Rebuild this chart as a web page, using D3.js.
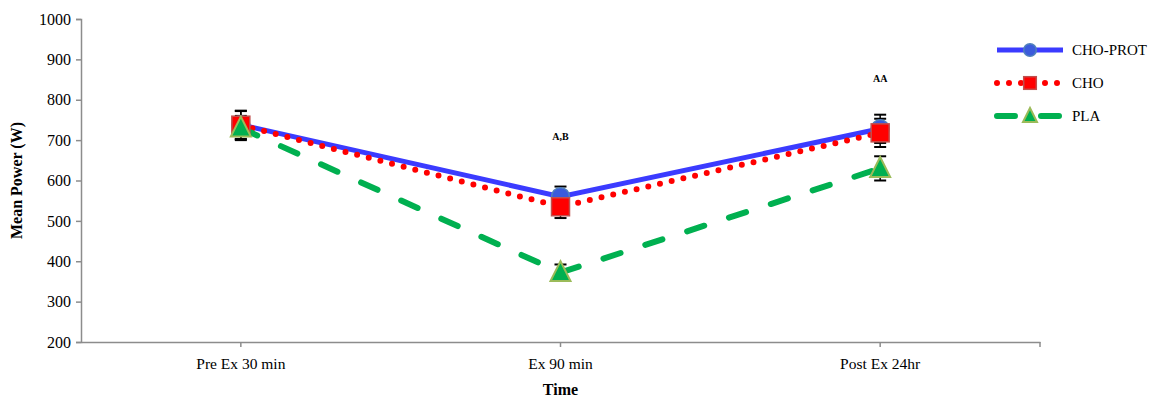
<!DOCTYPE html>
<html>
<head>
<meta charset="utf-8">
<script src="https://cdn.jsdelivr.net/npm/d3@7"></script>
<style>
  body { margin: 0; background: #fff; }
  svg text { font-family: "Liberation Serif", "DejaVu Serif", serif; }
</style>
</head>
<body>
<div class="chart"></div>
<script>
var categories = ['Pre Ex 30 min', 'Ex 90 min', 'Post Ex 24hr'];
var yTicks = [200, 300, 400, 500, 600, 700, 800, 900, 1000];

var choProt = [738, 560, 728];
var choProtErr = [35, 25, 35];
var cho = [737, 535, 718];
var choErr = [35, 28, 35];
var pla = [730, 372, 630];
var plaErr = [30, 20, 30];

var annotations = [
  {cat: 'Ex 90 min', value: 700, text: 'A,B'},
  {cat: 'Post Ex 24hr', value: 843, text: 'AA'}
];

var series = [
  {name: 'CHO-PROT', values: choProt, err: choProtErr, color: '#3b3bff', width: 5, dash: null, cap: 'butt', marker: 'circle'},
  {name: 'CHO', values: cho, err: choErr, color: '#ff0000', width: 6, dash: '0,12', cap: 'round', marker: 'square'},
  {name: 'PLA', values: pla, err: plaErr, color: '#00b050', width: 6, dash: '18,26', cap: 'round', marker: 'triangle'}
];

var W = 1149, H = 397;
var margin = {top: 19, right: 109, bottom: 55, left: 81};
var width = W - margin.left - margin.right,
    height = H - margin.top - margin.bottom;

var svg = d3.select('.chart').append('svg')
  .attr('width', W).attr('height', H)
  .append('g')
  .attr('transform', 'translate(' + margin.left + ',' + margin.top + ')');

var x = d3.scaleBand().domain(categories).range([0, width]);
var y = d3.scaleLinear().domain([200, 1000]).range([height, 0]);
function cx(c) { return x(c) + x.bandwidth() / 2; }

// Y axis
var yAxis = svg.append('g')
  .call(d3.axisLeft(y).tickValues(yTicks).tickFormat(d3.format('d')).tickSize(5).tickPadding(5));
yAxis.select('.domain').attr('stroke', '#8c8c8c').attr('stroke-width', 1.5);
yAxis.selectAll('.tick line').attr('stroke', '#8c8c8c').attr('stroke-width', 1.5);
yAxis.selectAll('.tick text').attr('font-size', 16).attr('fill', '#000');

// X axis
var xAxis = svg.append('g')
  .attr('transform', 'translate(0,' + height + ')')
  .call(d3.axisBottom(x).tickSize(5).tickSizeOuter(0).tickPadding(11));
xAxis.select('.domain').attr('stroke', '#8c8c8c').attr('stroke-width', 1.5);
xAxis.selectAll('.tick line').attr('stroke', '#8c8c8c').attr('stroke-width', 1.5);
xAxis.selectAll('.tick text').attr('font-size', 15.5).attr('fill', '#000');
xAxis.append('line')
  .attr('x1', width).attr('x2', width).attr('y1', 0).attr('y2', 5)
  .attr('stroke', '#8c8c8c').attr('stroke-width', 1.5);

// Axis titles
svg.append('text')
  .attr('x', width / 2).attr('y', height + 53)
  .attr('text-anchor', 'middle').attr('font-size', 16).attr('font-weight', 'bold')
  .text('Time');
svg.append('text')
  .attr('transform', 'rotate(-90)')
  .attr('x', -height / 2).attr('y', -59)
  .attr('text-anchor', 'middle').attr('font-size', 16).attr('font-weight', 'bold')
  .text('Mean Power (W)');

var line = d3.line()
  .x(function (d, i) { return cx(categories[i]); })
  .y(function (d) { return y(d); });

function drawMarker(g, type, px, py, big) {
  var s = big ? 1 : 0.7;
  if (type === 'circle') {
    g.append('circle').attr('cx', px).attr('cy', py).attr('r', 9 * s)
      .attr('fill', '#3b5bdb').attr('stroke', '#4f81bd').attr('stroke-width', 1.5);
  } else if (type === 'square') {
    g.append('rect').attr('x', px - 9 * s).attr('y', py - 9 * s)
      .attr('width', 18 * s).attr('height', 18 * s)
      .attr('fill', '#ff0000').attr('stroke', '#c0504d').attr('stroke-width', 1.5);
  } else {
    var h = 19 * s, b = 10 * s;
    g.append('path')
      .attr('d', 'M' + px + ',' + (py - h * 0.6) + 'L' + (px + b) + ',' + (py + h * 0.45) + 'L' + (px - b) + ',' + (py + h * 0.45) + 'Z')
      .attr('fill', '#00b050').attr('stroke', '#9bbb59').attr('stroke-width', 2);
  }
}

// Error bars
series.forEach(function (s) {
  var g = svg.append('g');
  s.values.forEach(function (v, i) {
    var px = cx(categories[i]);
    var lo = y(v - s.err[i]), hi = y(v + s.err[i]);
    g.append('line').attr('x1', px).attr('x2', px).attr('y1', lo).attr('y2', hi)
      .attr('stroke', '#000').attr('stroke-width', 1.5);
    [lo, hi].forEach(function (yy) {
      g.append('line').attr('x1', px - 6).attr('x2', px + 6).attr('y1', yy).attr('y2', yy)
        .attr('stroke', '#000').attr('stroke-width', 2);
    });
  });
});

// Lines and markers
series.forEach(function (s) {
  svg.append('path')
    .datum(s.values)
    .attr('d', line)
    .attr('fill', 'none')
    .attr('stroke', s.color)
    .attr('stroke-width', s.width)
    .attr('stroke-linecap', s.cap)
    .attr('stroke-dasharray', s.dash);
});
series.forEach(function (s) {
  var g = svg.append('g');
  s.values.forEach(function (v, i) {
    drawMarker(g, s.marker, cx(categories[i]), y(v), true);
  });
});

// Annotations
annotations.forEach(function (a) {
  svg.append('text')
    .attr('x', cx(a.cat)).attr('y', y(a.value))
    .attr('text-anchor', 'middle').attr('font-size', 10).attr('font-weight', 'bold')
    .text(a.text);
});

// Legend
var legend = svg.append('g').attr('transform', 'translate(' + (995 - margin.left) + ',' + (50 - margin.top) + ')');
series.forEach(function (s, i) {
  var g = legend.append('g').attr('transform', 'translate(0,' + (i * 33) + ')');
  g.append('line').attr('x1', 2).attr('x2', 68).attr('y1', 0).attr('y2', 0)
    .attr('stroke', s.color).attr('stroke-width', s.width)
    .attr('stroke-linecap', s.cap).attr('stroke-dasharray', s.dash);
  drawMarker(g, s.marker, 35, 0, false);
  g.append('text').attr('x', 77).attr('y', 5).attr('font-size', 15).text(s.name);
});
</script>
</body>
</html>
